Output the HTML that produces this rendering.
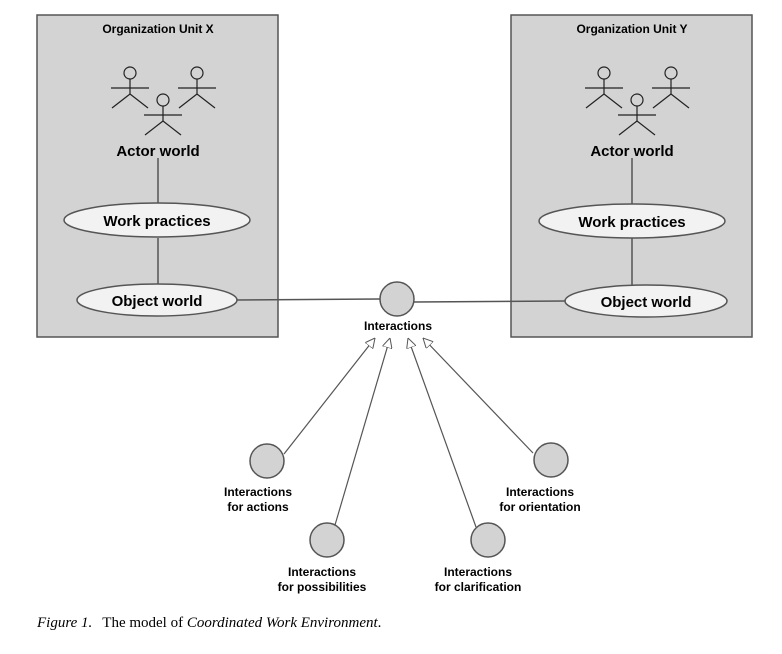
<!DOCTYPE html>
<html><head><meta charset="utf-8"><style>
html,body{margin:0;padding:0;background:#fff;}
svg{display:block;}
.b{font-family:"Liberation Sans",sans-serif;font-weight:bold;fill:#000;}
</style></head><body>
<svg width="782" height="654" viewBox="0 0 782 654" xmlns="http://www.w3.org/2000/svg">
<defs>
<g id="actor" stroke="#222" stroke-width="1.2" fill="none">
<circle cx="0" cy="0" r="6" fill="#d3d3d3"/>
<line x1="0" y1="6" x2="0" y2="21"/>
<line x1="-19" y1="15" x2="19" y2="15"/>
<line x1="0" y1="21" x2="-18" y2="35"/>
<line x1="0" y1="21" x2="18" y2="35"/>
</g>
<g id="unit">
<rect x="0" y="0" width="241" height="322" fill="#d3d3d3" stroke="#555" stroke-width="1.5"/>
<use href="#actor" x="93" y="58"/>
<use href="#actor" x="160" y="58"/>
<use href="#actor" x="126" y="85"/>
<text x="121" y="141" class="b" font-size="15" text-anchor="middle">Actor world</text>
<line x1="121" y1="143" x2="121" y2="205" stroke="#555" stroke-width="1.5"/>
<line x1="121" y1="223" x2="121" y2="270" stroke="#555" stroke-width="1.5"/>
</g>
<marker id="ar" viewBox="0 0 10 10" refX="10" refY="5" markerWidth="10" markerHeight="10" markerUnits="userSpaceOnUse" orient="auto">
<path d="M0,0 L10,5 L0,10 Z" fill="#fff" stroke="#555" stroke-width="1"/>
</marker>
</defs>
<use href="#unit" x="37" y="15"/>
<use href="#unit" x="511" y="15"/>
<text x="158" y="33" class="b" font-size="12" text-anchor="middle">Organization Unit X</text>
<text x="632" y="33" class="b" font-size="12" text-anchor="middle">Organization Unit Y</text>

<line x1="237" y1="300" x2="380" y2="299" stroke="#555" stroke-width="1.5"/>
<line x1="414" y1="302" x2="566" y2="301" stroke="#555" stroke-width="1.5"/>

<ellipse cx="157" cy="220" rx="93" ry="17" fill="#f2f2f2" stroke="#555" stroke-width="1.5"/>
<text x="157" y="226" class="b" font-size="15" text-anchor="middle">Work practices</text>
<ellipse cx="157" cy="300" rx="80" ry="16" fill="#f2f2f2" stroke="#555" stroke-width="1.5"/>
<text x="157" y="306" class="b" font-size="15" text-anchor="middle">Object world</text>

<ellipse cx="632" cy="221" rx="93" ry="17" fill="#f2f2f2" stroke="#555" stroke-width="1.5"/>
<text x="632" y="227" class="b" font-size="15" text-anchor="middle">Work practices</text>
<ellipse cx="646" cy="301" rx="81" ry="16" fill="#f2f2f2" stroke="#555" stroke-width="1.5"/>
<text x="646" y="307" class="b" font-size="15" text-anchor="middle">Object world</text>

<circle cx="397" cy="299" r="17" fill="#d3d3d3" stroke="#555" stroke-width="1.5"/>
<text x="398" y="330" class="b" font-size="12" text-anchor="middle">Interactions</text>

<g stroke="#555" stroke-width="1.2" marker-end="url(#ar)">
<line x1="284" y1="454" x2="375" y2="338"/>
<line x1="335" y1="525" x2="390" y2="338"/>
<line x1="476" y1="527" x2="408" y2="338"/>
<line x1="533" y1="453" x2="423" y2="338"/>
</g>
<g fill="#d3d3d3" stroke="#555" stroke-width="1.5">
<circle cx="267" cy="461" r="17"/>
<circle cx="327" cy="540" r="17"/>
<circle cx="488" cy="540" r="17"/>
<circle cx="551" cy="460" r="17"/>
</g>
<g class="b" font-size="12" text-anchor="middle">
<text x="258" y="496">Interactions</text><text x="258" y="511">for actions</text>
<text x="322" y="576">Interactions</text><text x="322" y="591">for possibilities</text>
<text x="478" y="576">Interactions</text><text x="478" y="591">for clarification</text>
<text x="540" y="496">Interactions</text><text x="540" y="511">for orientation</text>
</g>
<text x="37" y="627" font-family="Liberation Serif,serif" font-size="15" fill="#000"><tspan font-style="italic">Figure 1.</tspan><tspan dx="10">The model of </tspan><tspan font-style="italic">Coordinated Work Environment</tspan>.</text>
</svg>
</body></html>
